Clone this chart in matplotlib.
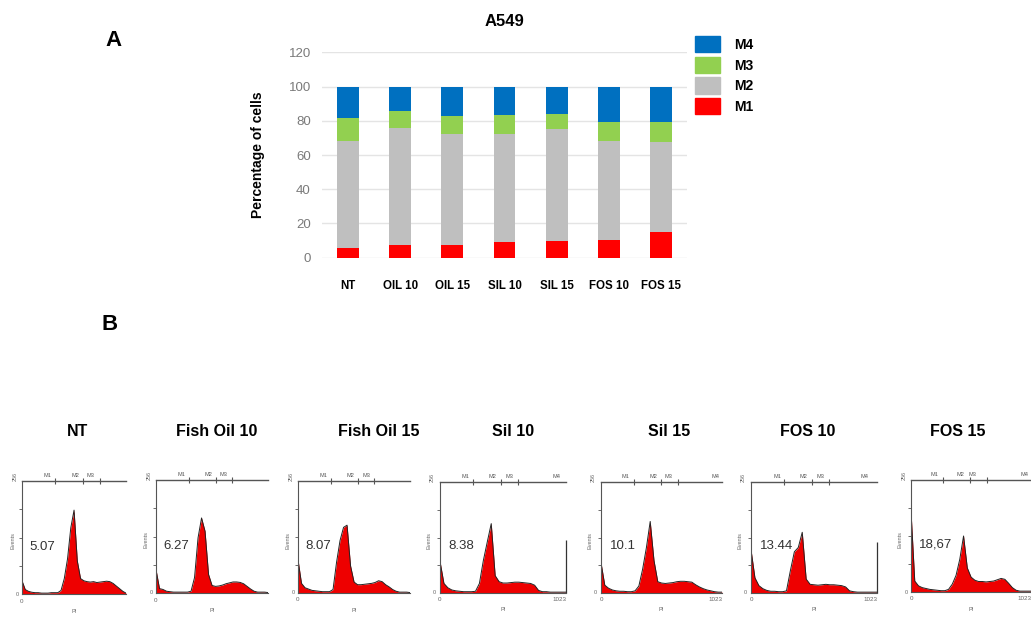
import matplotlib
matplotlib.use('Agg')
import matplotlib.pyplot as plt
from matplotlib.patches import Patch

plt.rcParams['font.family'] = ['Liberation Sans', 'DejaVu Sans']

# --- panel A: stacked percentages ---
groups = ['NT', 'OIL 10', 'OIL 15', 'SIL 10', 'SIL 15', 'FOS 10', 'FOS 15']
m1 = [5.5, 7.5, 7.5, 9, 9.5, 10.5, 15]
m2 = [62.5, 68.5, 65, 63.5, 65.5, 57.5, 52.5]
m3 = [13.5, 9.5, 10.5, 11, 9, 11.5, 12]
m4 = [18.5, 14.5, 17, 16.5, 16, 20, 20.5]
phase_colors = {'M1': '#ff0000', 'M2': '#bfbfbf', 'M3': '#92d050', 'M4': '#0070c0'}

# --- panel B: PI histograms (counts read every 32 channels) ---
channels = list(range(0, 1024, 32)) + [1023]
panel_titles = ['NT', 'Fish Oil 10', 'Fish Oil 15', 'Sil 10', 'Sil 15', 'FOS 10', 'FOS 15']
subg1_pct = ['5.07', '6.27', '8.07', '8.38', '10.1', '13.44', '18,67']
counts_nt = [30, 10, 6, 4, 3, 3, 2, 2, 2, 3, 3, 3, 8, 35, 80, 150, 190, 75, 35, 30, 28, 27, 28,
             26, 27, 28, 29, 28, 24, 18, 12, 6, 2]
counts_oil10 = [53, 10, 8, 4, 3, 2, 2, 2, 2, 2, 4, 35, 125, 170, 140, 42, 17, 15, 16, 18, 21, 23,
                25, 25, 24, 21, 15, 9, 4, 2, 2, 2, 1]
counts_oil15 = [76, 22, 12, 9, 6, 5, 4, 3, 3, 3, 8, 70, 120, 150, 155, 62, 25, 19, 19, 20, 21, 22,
                24, 28, 26, 19, 14, 8, 4, 2, 2, 2, 1]
counts_sil10 = [73, 22, 12, 7, 5, 4, 3, 3, 3, 4, 22, 75, 118, 160, 40, 26, 23, 23, 24, 25, 25, 24,
                23, 22, 18, 6, 3, 3, 2, 2, 2, 2, 2]
counts_sil15 = [70, 18, 11, 7, 5, 4, 4, 3, 3, 5, 16, 55, 105, 165, 75, 26, 23, 22, 23, 24, 26, 27,
                27, 26, 25, 19, 14, 10, 7, 5, 3, 2, 2]
counts_fos10 = [100, 35, 17, 10, 6, 4, 4, 3, 3, 5, 52, 95, 105, 140, 32, 20, 19, 18, 19, 20, 19,
                19, 18, 17, 14, 5, 3, 2, 2, 2, 2, 2, 2]
counts_fos15 = [185, 25, 14, 10, 8, 6, 5, 4, 3, 3, 6, 18, 38, 75, 128, 55, 34, 27, 24, 24, 23, 24,
                25, 28, 31, 29, 20, 10, 4, 2, 2, 2, 2]
overflow_1023 = [0, 0, 0, 122, 0, 118, 0]
marker_ticks = [[328, 600, 764], [300, 552, 698], [300, 552, 698], [271, 499, 630],
                [277, 509, 650], [271, 499, 630], [275, 506, 644]]
marker_label_x = [[253, 525, 672], [234, 476, 613], [234, 476, 628], [209, 426, 562, 982],
                  [209, 444, 571, 1000], [214, 426, 562, 955], [198, 418, 528, 1005]]
all_counts = [counts_nt, counts_oil10, counts_oil15, counts_sil10,
              counts_sil15, counts_fos10, counts_fos15]

W, H = 1031, 618
fig = plt.figure(figsize=(W / 100, H / 100), dpi=100)


def px_axes(left, top, right, bottom):
    return fig.add_axes([left / W, 1 - bottom / H, (right - left) / W, (bottom - top) / H])


# stacked bars
ax = px_axes(322, 52.3, 687, 257.7)
x = range(len(groups))
bottom = [0] * len(groups)
for name, vals in [('M1', m1), ('M2', m2), ('M3', m3), ('M4', m4)]:
    ax.bar(x, vals, 0.42, bottom=bottom, color=phase_colors[name], linewidth=0, zorder=3)
    bottom = [b + v for b, v in zip(bottom, vals)]
ax.set_xlim(-0.5, 6.5)
ax.set_ylim(0, 120)
ax.set_yticks(range(0, 121, 20))
ax.grid(axis='y', color='#e4e4e4', linewidth=1, zorder=0)
for s in ax.spines.values():
    s.set_visible(False)
ax.set_xticks(list(x))
ax.set_xticklabels(groups, fontsize=8.3, fontweight='bold')
ax.tick_params(axis='x', length=0, pad=16)
ax.tick_params(axis='y', length=0, pad=8, labelsize=9.5, labelcolor='#7a7a7a')
ax.set_ylabel('Percentage of cells', fontsize=10, fontweight='bold', labelpad=17)
ax.set_title('A549', fontsize=12, fontweight='bold', pad=19)
handles = [Patch(color=phase_colors[k], label=k) for k in ['M4', 'M3', 'M2', 'M1']]
fig.legend(handles=handles, loc='upper left', bbox_to_anchor=(695 / W, 1 - 36 / H),
           frameon=False, borderpad=0, borderaxespad=0, handlelength=1.8, handleheight=1.45,
           labelspacing=0.3, handletextpad=1.0, prop={'weight': 'bold', 'size': 10})

fig.text(113 / W, 1 - 40 / H, 'A', fontsize=16, fontweight='bold', ha='center', va='center')
fig.text(110 / W, 1 - 325 / H, 'B', fontsize=16, fontweight='bold', ha='center', va='center')

# histograms
boxes = [(22, 481, 126, 594), (156, 480, 268, 593), (298, 481, 410, 593), (440, 482, 566, 593),
         (601, 482, 722, 593), (751, 482, 877, 593), (911, 480, 1031, 592)]
title_x = [78, 217, 379, 513, 669, 808, 958]
for i, (l, t, r, b) in enumerate(boxes):
    hx = px_axes(l, t, r, b)
    hx.fill_between(channels, all_counts[i], color='#ee0000', linewidth=0)
    hx.plot(channels, all_counts[i], color='#222222', linewidth=0.7)
    if overflow_1023[i]:
        hx.vlines(1023, 0, overflow_1023[i], color='#333333', linewidth=0.9, clip_on=False)
    hx.set_xlim(0, 1023)
    hx.set_ylim(0, 256)
    for side in ['top', 'right']:
        hx.spines[side].set_visible(False)
    for side in ['left', 'bottom']:
        hx.spines[side].set_color('#555555')
        hx.spines[side].set_linewidth(0.8)
    hx.set_xticks([])
    hx.set_yticks([64, 128, 192])
    hx.set_yticklabels([])
    hx.tick_params(axis='y', length=2, width=0.6, color='#555555')
    # marker bar along the top
    hx.plot([0, 1023], [256, 256], color='#555555', linewidth=1, clip_on=False)
    hx.vlines(marker_ticks[i], 250, 262, color='#555555', linewidth=0.8, clip_on=False)
    for k, mx in enumerate(marker_label_x[i]):
        hx.text(mx, 263, 'M%d' % (k + 1), fontsize=4, color='#555555',
                ha='right' if k == 3 else 'center', va='bottom')
    hx.text(-0.04, 1.0, '256', rotation=90, fontsize=4, color='#666666', ha='right', va='bottom',
            transform=hx.transAxes)
    hx.text(-0.03, 0.0, '0', fontsize=4, color='#666666', ha='right', va='center',
            transform=hx.transAxes)
    hx.text(-0.09, 0.47, 'Events', rotation=90, fontsize=4, color='#666666', ha='center',
            va='center', transform=hx.transAxes)
    hx.text(0.0, -0.04, '0', fontsize=4.5, color='#666666', ha='center', va='top',
            transform=hx.transAxes)
    if i >= 3:
        hx.text(1.0, -0.04, '1023', fontsize=4.5, color='#666666', ha='right', va='top',
                transform=hx.transAxes)
    hx.text(0.5, -0.13, 'PI', fontsize=4, color='#666666', ha='center', va='top',
            transform=hx.transAxes)
    hx.text(0.07, 0.42, subg1_pct[i], fontsize=9.5, color='#333333', ha='left', va='center',
            transform=hx.transAxes)
    fig.text(title_x[i] / W, 1 - 432 / H, panel_titles[i], fontsize=11.5, fontweight='bold',
             ha='center', va='center')

fig.savefig('out.png', dpi=100)
